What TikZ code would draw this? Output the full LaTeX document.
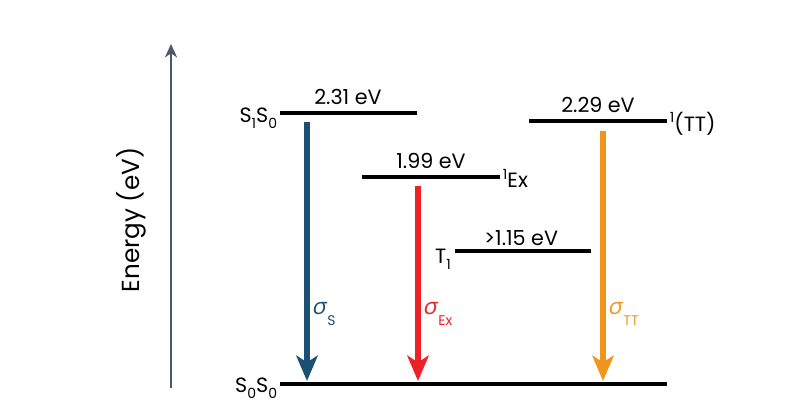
\documentclass[tikz,border=0pt]{standalone}
\usepackage{fontspec}
\setmainfont{Poppins}
\newfontfamily\grk[FakeSlant=0.2]{Open Sans}
\usetikzlibrary{arrows.meta}
\definecolor{axisgrey}{HTML}{4B5A69}
\definecolor{sblue}{HTML}{1B4F74}
\definecolor{exred}{HTML}{EE2126}
\definecolor{ttorange}{HTML}{F0961C}
\newcommand{\lowsub}[1]{\raisebox{-0.55ex}{\fontsize{10.5}{12}\selectfont #1}}
\newcommand{\highsup}[1]{\raisebox{0.75ex}{\fontsize{10.5}{12}\selectfont #1}}
\newcommand{\sig}[1]{{\fontsize{17}{18}\grk σ}\kern1.5pt\raisebox{-0.9ex}{\fontsize{10.5}{12}\selectfont #1}}
\tikzset{
  level/.style={line width=3.6pt},
  decay/.style={line width=4.3pt, -{Stealth[length=19pt,width=16pt,inset=5pt]}},
  lbl/.style={font=\fontsize{15.5}{18}\selectfont, inner sep=1pt}
}
\begin{document}
\begin{tikzpicture}[x=0.75pt,y=-0.75pt]
    \useasboundingbox (0,0) rectangle (808,419);

    % energy axis
    \coordinate (axbot) at (171,388);
    \coordinate (axtop) at (171,44);
    \draw[axisgrey, line width=2.2pt, -{Stealth[length=10pt,width=9pt,inset=3pt]}] (axbot) -- (axtop);
    \node[rotate=90, font=\fontsize{18.5}{20}\selectfont] (elabel) at (131,220) {Energy (eV)};

    % levels
    \draw[level] (280,113) coordinate (s1l) -- (417,113) coordinate (s1r);
    \draw[level] (362,177) coordinate (exl) -- (500,177) coordinate (exr);
    \draw[level] (455,251) coordinate (t1l) -- (591,251) coordinate (t1r);
    \draw[level] (529,121) coordinate (ttl) -- (667,121) coordinate (ttr);
    \draw[level] (280,384) coordinate (s0l) -- (667,384) coordinate (s0r);

    \node[lbl, anchor=east] (ls1) at ([xshift=-1pt,yshift=-4pt]s1l) {S\lowsub{1}S\lowsub{0}};
    \node[lbl] (es1) at (348,97) {2.31 eV};
    \node[lbl] (eex) at (431,161) {1.99 eV};
    \node[lbl, anchor=west] (lex) at ([xshift=1pt,yshift=-1pt]exr) {\highsup{1}Ex};
    \node[lbl] (et1) at (521,238) {>1.15 eV};
    \node[lbl, anchor=east] (lt1) at ([xshift=-2pt,yshift=-6pt]t1l) {T\lowsub{1}};
    \node[lbl] (ett) at (598,105) {2.29 eV};
    \node[lbl, anchor=west] (ltt) at ([xshift=1pt,yshift=-2pt]ttr) {\highsup{1}(TT)};
    \node[lbl, anchor=east] (ls0) at ([xshift=-1pt,yshift=-3pt]s0l) {S\lowsub{0}S\lowsub{0}};

    % transitions
    \coordinate (sa) at (307,122);  \coordinate (sb) at (307,381);
    \coordinate (xa) at (418,186);  \coordinate (xb) at (418,381);
    \coordinate (ta) at (603,131);  \coordinate (tb) at (603,381);
    \draw[decay, sblue] (sa) -- (sb);
    \draw[decay, exred] (xa) -- (xb);
    \draw[decay, ttorange] (ta) -- (tb);

    \node[lbl, sblue, anchor=west] (sig1) at (310,314) {\sig{S}};
    \node[lbl, exred, anchor=west] (sig2) at (421,314) {\sig{Ex}};
    \node[lbl, ttorange, anchor=west] (sig3) at (606,314) {\sig{TT}};
\end{tikzpicture}
\end{document}
